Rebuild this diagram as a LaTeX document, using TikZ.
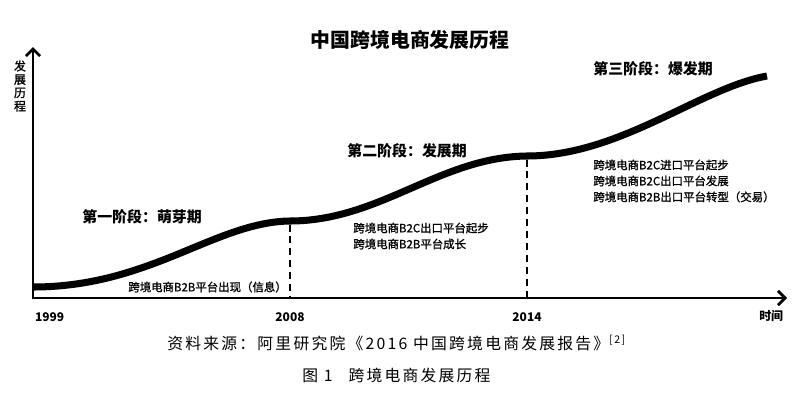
\documentclass[tikz,border=0pt]{standalone}
\usepackage{fontspec}
\usetikzlibrary{arrows.meta,positioning}
\setmainfont{Noto Sans CJK SC}
\newfontfamily\songti{Noto Sans CJK SC}[LetterSpace=14]
\newfontfamily\heavy{Noto Sans CJK SC}[FakeBold=1.2]

\begin{document}
\begin{tikzpicture}[x=0.02cm,y=-0.02cm,
  axis/.style={line width=1.6pt,miter limit=2},
  tip/.tip={Straight Barb[length=4pt,width=8pt]},
  stage/.style={anchor=west,inner sep=0pt,font=\fontsize{8.5}{10}\selectfont\bfseries},
  event/.style={anchor=west,align=left,inner sep=0pt,font=\heavy\fontsize{6.5}{9.1}\selectfont},
  year/.style={inner sep=0pt,font=\fontsize{6.8}{8}\selectfont\bfseries},
  divide/.style={line width=1.1pt,dash pattern=on 4pt off 2.8pt},
  figcap/.style={anchor=west,inner sep=0pt,font=\songti\fontsize{9}{11}\selectfont}] 
   \useasboundingbox (0,0) rectangle (800,392);
   \node[font=\fontsize{11.3}{13}\selectfont\bfseries] (title) at (410,40) {中国跨境电商发展历程};
   % axes
   \coordinate (O) at (33,298);
   \coordinate (ytip) at (33,47);
   \coordinate (xtip) at (787,298);
   \draw[axis,tip-tip] (ytip) -- (O) -- (xtip);
   \node[inner sep=0pt,align=center,font=\heavy\fontsize{6.8}{7.6}\selectfont] (ylab) at (20,86) {发\\展\\历\\程};
   % growth curve
   \coordinate (p2008) at (290,221);
   \coordinate (p2014) at (527,156);
   \draw[line width=4pt] (33,287) .. controls (150,287) and (215,222) .. (p2008)
     .. controls (380,221) and (440,157) .. (p2014)
     .. controls (620,156) and (700,88) .. (767,76);
   \coordinate (f2008) at (290,298);
   \coordinate (f2014) at (527,298);
   \draw[divide] ([yshift=-2pt]p2008) -- (f2008);
   \draw[divide] ([yshift=-2pt]p2014) -- (f2014);
   \node[year,below right=8pt and 1pt of O,anchor=north west] (y1999) {1999};
   \node[year,below=8pt of f2008] (y2008) {2008};
   \node[year,below=8pt of f2014] (y2014) {2014};
   \node[year,below left=7pt and 2pt of xtip] (time) {时间};
   % stages
   \node[stage] (s1) at (82,217) {第一阶段：萌芽期};
   \node[event] (e1) at (128,287) {跨境电商B2B平台出现（信息）};
   \node[stage] (s2) at (347,151) {第二阶段：发展期};
   \node[event] (e2) at (353,236) {跨境电商B2C出口平台起步\\跨境电商B2B平台成长};
   \node[stage] (s3) at (593,69) {第三阶段：爆发期};
   \node[event] (e3) at (593,181) {跨境电商B2C进口平台起步\\跨境电商B2C出口平台发展\\跨境电商B2B出口平台转型（交易）};
   % caption
   \node[figcap] (src) at (167,343) {资料来源：阿里研究院《2016 中国跨境电商发展报告》\textsuperscript{[2]}};
   \node[figcap] (fig) at (302,375) {图 1\quad 跨境电商发展历程};
\end{tikzpicture}
\end{document}
